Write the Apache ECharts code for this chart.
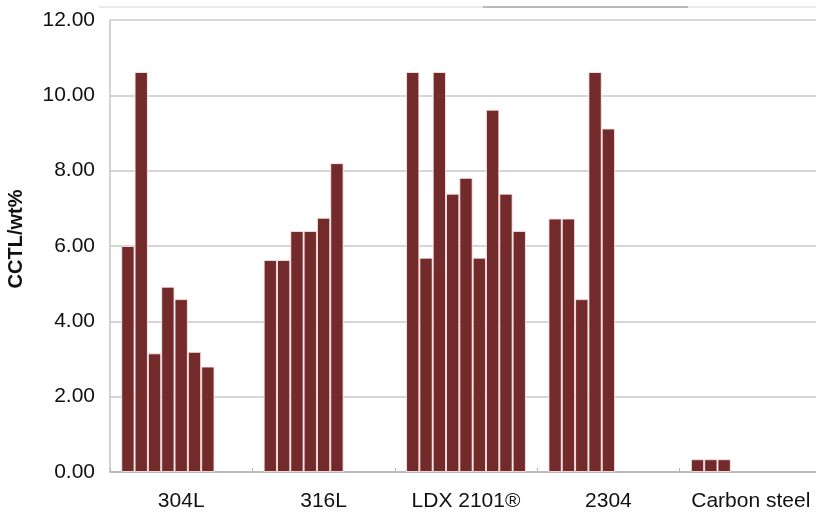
<!DOCTYPE html>
<html>
<head>
<meta charset="utf-8">
<script src="https://cdn.jsdelivr.net/npm/echarts@6/dist/echarts.min.js"></script>
<style>
  html, body { margin: 0; padding: 0; background: #fff; }
  #chart { width: 816px; height: 512px; }
</style>
</head>
<body>
<div id="chart"></div>
<script>
// Steel grades along the x axis
const grades = ['304L', '316L', 'LDX 2101\u00AE', '2304', 'Carbon steel'];

// CCTL (wt%) of the individual specimens tested for each grade
const cctl304L = [6.00, 10.62, 3.15, 4.92, 4.59, 3.19, 2.80];
const cctl316L = [5.63, 5.63, 6.40, 6.40, 6.75, 8.20];
const cctlLDX2101 = [10.62, 5.69, 10.62, 7.39, 7.81, 5.69, 9.62, 7.39, 6.40];
const cctl2304 = [6.73, 6.73, 4.59, 10.62, 9.12];
const cctlCarbon = [0.34, 0.34, 0.34];

// Y axis ticks
const yTicks = [0, 2, 4, 6, 8, 10, 12];

const groups = [cctl304L, cctl316L, cctlLDX2101, cctl2304, cctlCarbon];
const slotCount = Math.max(...groups.map(g => g.length));

const series = [];
for (let i = 0; i < slotCount; i++) {
  series.push({
    type: 'bar',
    name: 'Specimen ' + (i + 1),
    data: groups.map(g => (i < g.length ? g[i] : '-')),
    barGap: '0%',
    barCategoryGap: '15.8%',
    itemStyle: {
      color: '#722a2b',
      borderColor: 'rgba(255,232,232,0.85)',
      borderWidth: 1
    },
    silent: true
  });
}

const chart = echarts.init(document.getElementById('chart'), null, { renderer: 'canvas' });
chart.setOption({
  animation: false,
  backgroundColor: '#ffffff',
  grid: {
    left: 110, right: -6, top: 20, bottom: 40,
    containLabel: false,
    outerBoundsMode: 'none'
  },
  xAxis: {
    type: 'category',
    data: grades,
    boundaryGap: true,
    axisLine: { show: true, lineStyle: { color: '#b4b4b4', width: 1.5 } },
    axisTick: { show: true, inside: true, length: 4, lineStyle: { color: '#b4b4b4' } },
    axisLabel: {
      interval: 0,
      hideOverlap: false,
      color: '#111',
      fontFamily: 'Liberation Sans, Arial, sans-serif',
      fontSize: 21,
      margin: 19
    },
    splitLine: { show: false }
  },
  yAxis: {
    type: 'value',
    min: yTicks[0],
    max: yTicks[yTicks.length - 1],
    interval: yTicks[1] - yTicks[0],
    name: 'CCTL/wt%',
    nameLocation: 'middle',
    nameGap: 84,
    nameRotate: 90,
    nameTextStyle: {
      color: '#111',
      fontFamily: 'Liberation Sans, Arial, sans-serif',
      fontSize: 20,
      fontWeight: 'bold',
      padding: [0, 0, 0, 14]
    },
    axisLine: { show: true, lineStyle: { color: '#c4c4c4', width: 1.5 } },
    axisTick: { show: false },
    axisLabel: {
      color: '#111',
      fontFamily: 'Liberation Sans, Arial, sans-serif',
      fontSize: 21,
      margin: 15,
      formatter: v => v.toFixed(2)
    },
    splitLine: { show: true, lineStyle: { color: '#c8c8c8', width: 1.5 } }
  },
  graphic: [
    {
      type: 'line',
      shape: { x1: 99, y1: 7, x2: 816, y2: 7 },
      style: { stroke: '#d4d4d4', lineWidth: 1 },
      silent: true
    },
    {
      type: 'line',
      shape: { x1: 483, y1: 7, x2: 688, y2: 7 },
      style: { stroke: '#8a8a8a', lineWidth: 1 },
      silent: true
    }
  ],
  series: series
});
</script>
</body>
</html>
